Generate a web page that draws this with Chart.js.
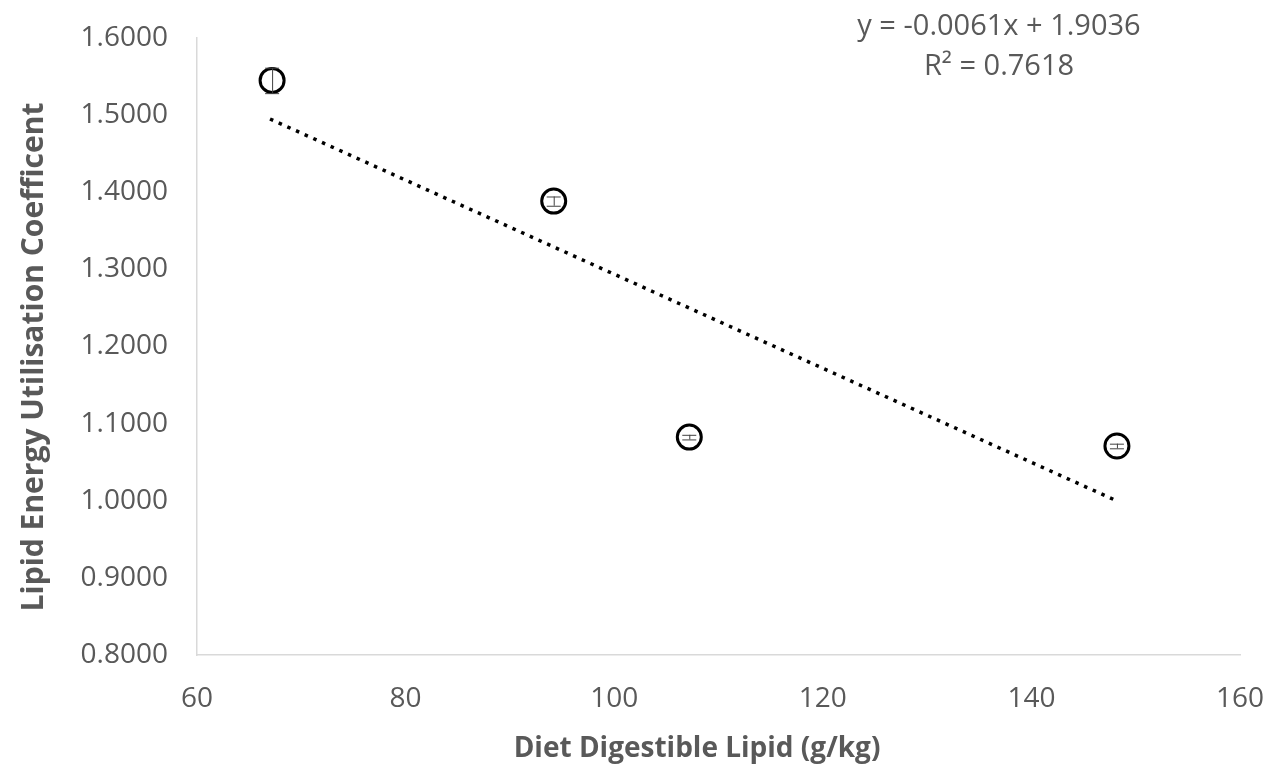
<!DOCTYPE html>
<html>
<head>
<meta charset="utf-8">
<script src="https://cdn.jsdelivr.net/npm/chart.js@4/dist/chart.umd.min.js"></script>
<style>
  html, body { margin: 0; padding: 0; background: #fff; }
  #wrap { width: 1275px; height: 774px; }
</style>
</head>
<body>
<div id="wrap"><canvas id="myChart" width="1275" height="774"></canvas></div>
<script>
// values
const dietLipid = [67.2, 94.2, 107.2, 148.2];
const energyCoef = [1.5450, 1.3885, 1.0825, 1.0710];
const coefError = [0.0165, 0.006, 0.003, 0.003];
const trendX = [67, 148];
const trendY = [1.495, 1.001];
const equationLines = ["y = -0.0061x + 1.9036", "R\u00B2 = 0.7618"];
const xTitle = "Diet Digestible Lipid (g/kg)";
const yTitle = "Lipid Energy Utilisation Coefficent";

const grey = "#595959";
const fontFam = "'Open Sans', 'DejaVu Sans', sans-serif";

const errorBars = {
    id: "errorBars",
    afterDatasetsDraw(chart) {
        const { ctx, scales: { x, y } } = chart;
        ctx.save();
        ctx.strokeStyle = "#404040";
        ctx.lineWidth = 1;
        dietLipid.forEach((d, i) => {
            const px = x.getPixelForValue(d);
            const top = y.getPixelForValue(energyCoef[i] + coefError[i]);
            const bot = y.getPixelForValue(energyCoef[i] - coefError[i]);
            ctx.beginPath();
            ctx.moveTo(px + 0.5, top); ctx.lineTo(px + 0.5, bot);
            ctx.moveTo(px - 7, top + 0.5); ctx.lineTo(px + 7, top + 0.5);
            ctx.moveTo(px - 7, bot + 0.5); ctx.lineTo(px + 7, bot + 0.5);
            ctx.stroke();
        });
        ctx.restore();
    }
};

// equation box and axis titles (Excel centres titles over the whole chart)
const textLabels = {
    id: "textLabels",
    afterDraw(chart) {
        const ctx = chart.ctx;
        ctx.save();
        ctx.fillStyle = grey;
        ctx.textAlign = "center";
        ctx.textBaseline = "middle";
        ctx.font = "29px " + fontFam;
        ctx.fillText(equationLines[0], 999, 27);
        ctx.fillText(equationLines[1], 999, 67);
        ctx.font = "bold 28px " + fontFam;
        ctx.fillText(xTitle, 697, 749);
        ctx.translate(34, 357);
        ctx.rotate(-Math.PI / 2);
        ctx.font = "bold 30px " + fontFam;
        ctx.fillText(yTitle, 0, 0);
        ctx.restore();
    }
};

const ctx1 = document.getElementById("myChart").getContext("2d");

const myChart = new Chart(ctx1, {
    type: "scatter",
    data: {
        datasets: [
            {
                label: "Lipid",
                data: dietLipid.map((d, i) => ({ x: d, y: energyCoef[i] })),
                pointRadius: 12,
                pointBorderWidth: 3,
                pointBorderColor: "#000",
                pointBackgroundColor: "rgba(0,0,0,0)",
                order: 1,
            },
            {
                label: "Trend",
                type: "line",
                data: trendX.map((d, i) => ({ x: d, y: trendY[i] })),
                borderColor: "#000",
                borderWidth: 3.5,
                borderDash: [3.5, 6],
                pointRadius: 0,
                fill: false,
                order: 2,
            },
        ],
    },
    options: {
        responsive: false,
        animation: false,
        layout: { padding: { top: 38, right: 35, left: 0, bottom: 0 } },
        scales: {
            x: {
                type: "linear",
                min: 60,
                max: 160,
                afterFit: (s) => { s.height = 119; s.paddingLeft = 0; s.paddingRight = 0; },
                ticks: { stepSize: 20, color: grey, padding: 27, font: { size: 28, family: fontFam } },
                grid: { display: false, drawTicks: false },
                border: { display: true, color: "#d9d9d9", width: 1.5 },
            },
            y: {
                min: 0.8,
                max: 1.6,
                afterFit: (s) => { s.width = 197; s.paddingTop = 0; s.paddingBottom = 0; },
                ticks: { stepSize: 0.1, color: grey, padding: 29, font: { size: 28, family: fontFam }, callback: (v) => v.toFixed(4) },
                grid: { display: false, drawTicks: false },
                border: { display: true, color: "#d9d9d9", width: 1.5 },
            },
        },
        plugins: {
            legend: { display: false },
            tooltip: { enabled: false },
        },
    },
    plugins: [errorBars, textLabels],
});
</script>
</body>
</html>
